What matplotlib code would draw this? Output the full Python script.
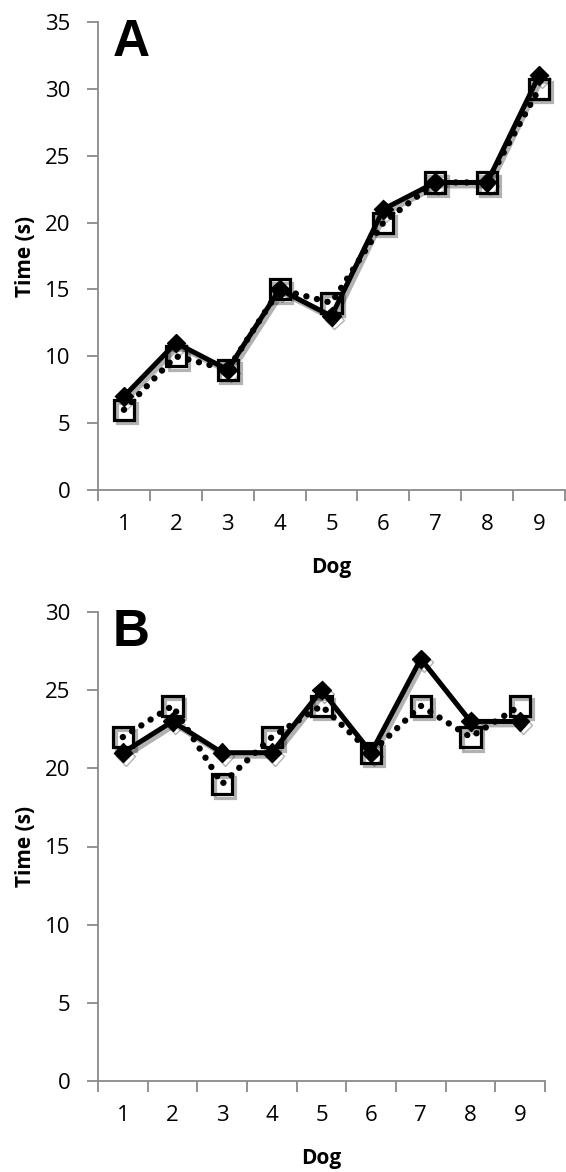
import numpy as np
import matplotlib
matplotlib.use("Agg")
from matplotlib import pyplot as plt
from matplotlib import patheffects as pe

plt.rcParams["font.family"] = ["Open Sans", "DejaVu Sans"]

dogs = [1, 2, 3, 4, 5, 6, 7, 8, 9]

# panel A
a_diamond = [7, 11, 9, 15, 13, 21, 23, 23, 31]
a_square = [6, 10, 9, 15, 14, 20, 23, 23, 30]

# panel B
b_diamond = [21, 23, 21, 21, 25, 21, 27, 23, 23]
b_square = [22, 24, 19, 22, 24, 21, 24, 22, 24]

shadow = [pe.SimpleLineShadow(offset=(2, -2.5), alpha=0.3, shadow_color="k"), pe.Normal()]
grey = "#8a8a8a"

fig = plt.figure(figsize=(5.66, 11.72), dpi=100)


def panel(ax, sq, dm, ymax, letter, w_px, h_px):
    x = np.array(dogs)
    ax.plot(x, sq, linestyle="none", marker="s", ms=14.5, mfc="none", mec="k", mew=2.3,
            path_effects=shadow, zorder=2)
    ax.plot(x, sq, linestyle=(0, (0.01, 1.7)), dash_capstyle="round", color="k", lw=4.6,
            zorder=2.5)
    ax.plot(x, dm, linestyle="-", color="k", lw=3.6, marker="D", ms=9.5,
            mfc="k", mec="k", path_effects=shadow, zorder=3)
    ax.set_xlim(0.5, 9.5)
    ax.set_ylim(0, ymax)
    ax.set_yticks(np.arange(0, ymax + 1, 5))
    ax.set_xticks(x)
    ax.set_xticks(np.arange(0.5, 10, 1), minor=True)
    ax.tick_params(axis="x", which="major", length=0, pad=17, labelsize=16)
    ax.tick_params(axis="x", which="minor", length=8, color=grey, width=1.3)
    ax.tick_params(axis="y", length=8, color=grey, width=1.3, labelsize=16, pad=12)
    for s in ["top", "right"]:
        ax.spines[s].set_visible(False)
    for s in ["left", "bottom"]:
        ax.spines[s].set_color(grey)
        ax.spines[s].set_linewidth(1.3)
    ax.set_ylabel("Time (s)", fontsize=15, fontweight="bold")
    ax.set_xlabel("Dog", fontsize=15, fontweight="bold")
    ax.yaxis.set_label_coords(-62 / w_px, 0.5)
    ax.xaxis.set_label_coords(0.5, -67 / h_px)
    ax.text(15 / w_px, 1 + 4 / h_px, letter, transform=ax.transAxes, fontsize=37,
            fontweight="bold", family="Liberation Sans", va="top", ha="left")
    ax.set_facecolor("none")


ax1 = fig.add_axes([98 / 566, 1 - 490 / 1172, 467 / 566, 468 / 1172])
panel(ax1, a_square, a_diamond, 35, "A", 467, 468)

ax2 = fig.add_axes([98 / 566, 1 - 1081 / 1172, 447 / 566, 469 / 1172])
panel(ax2, b_square, b_diamond, 30, "B", 447, 469)

fig.savefig("out.png", dpi=100)
